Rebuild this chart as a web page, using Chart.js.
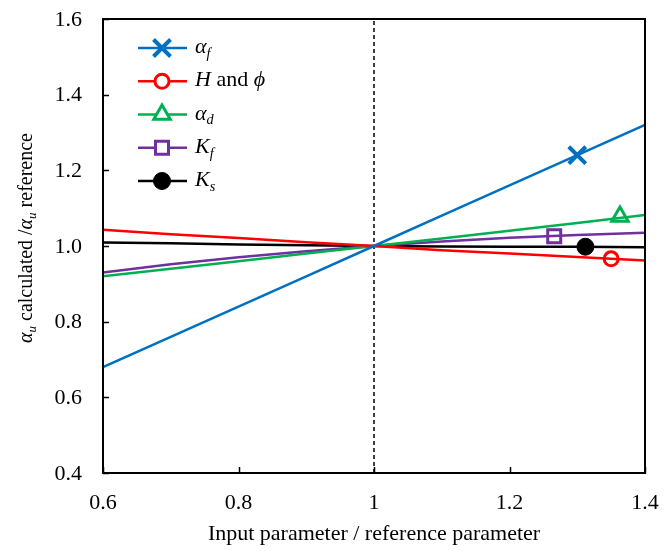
<!DOCTYPE html>
<html>
<head>
<meta charset="utf-8">
<script src="https://cdn.jsdelivr.net/npm/chart.js@4/dist/chart.umd.min.js"></script>
<style>
  html, body { margin: 0; padding: 0; background: #fff; }
  #wrap { width: 664px; height: 551px; position: relative; }
</style>
</head>
<body>
<div id="wrap"><canvas id="chart" width="664" height="551"></canvas></div>
<script>
// Data
const xValues = [0.6, 0.7, 0.8, 0.9, 1.0, 1.1, 1.2, 1.3, 1.4];
const alphaF  = [0.680, 0.760, 0.840, 0.920, 1.000, 1.080, 1.160, 1.240, 1.320];
const hPhi    = [1.043, 1.031, 1.021, 1.010, 1.000, 0.989, 0.980, 0.971, 0.962];
const alphaD  = [0.920, 0.940, 0.960, 0.980, 1.000, 1.020, 1.040, 1.061, 1.082];
const kF      = [0.930, 0.952, 0.970, 0.986, 1.000, 1.012, 1.022, 1.029, 1.035];
const kS      = [1.009, 1.007, 1.004, 1.002, 1.000, 0.999, 0.998, 0.998, 0.997];

// single marker per series
const markerX = [1.300, 1.350, 1.363, 1.266, 1.312];
const markerY = [1.240, 0.966, 1.078, 1.026, 0.998];

const refLineX = [1.0, 1.0];
const refLineY = [0.4, 1.6];

const xTicks = [0.6, 0.8, 1.0, 1.2, 1.4];
const xTickLabels = ['0.6', '0.8', '1', '1.2', '1.4'];
const yTicks = [0.4, 0.6, 0.8, 1.0, 1.2, 1.4, 1.6];
const yTickLabels = ['0.4', '0.6', '0.8', '1.0', '1.2', '1.4', '1.6'];

const FONT = '"Liberation Serif", "Times New Roman", serif';

const seriesInfo = [
  { data: alphaF, color: '#0070C0', style: 'crossRot', radius: 12, fill: '#0070C0', bw: 4,
    label: [{ t: 'α', i: true }, { t: 'f', i: true, sub: true }] },
  { data: hPhi, color: '#FF0000', style: 'circle', radius: 7, fill: '#ffffff', bw: 3,
    label: [{ t: 'H', i: true }, { t: ' and ' }, { t: 'ϕ', i: true }] },
  { data: alphaD, color: '#00B050', style: 'triangle', radius: 9.5, fill: '#ffffff', bw: 3,
    label: [{ t: 'α', i: true }, { t: 'd', i: true, sub: true }] },
  { data: kF, color: '#7030A0', style: 'rect', radius: 9.2, fill: '#ffffff', bw: 3,
    label: [{ t: 'K', i: true }, { t: 'f', i: true, sub: true }] },
  { data: kS, color: '#000000', style: 'circle', radius: 8.5, fill: '#000000', bw: 1,
    label: [{ t: 'K', i: true }, { t: 's', i: true, sub: true }] }
];

const datasets = [];
seriesInfo.forEach((s) => {
  datasets.push({
    data: xValues.map((x, i) => ({ x: x, y: s.data[i] })),
    showLine: true,
    borderColor: s.color,
    borderWidth: 2.5,
    pointRadius: 0,
    tension: 0
  });
});
seriesInfo.forEach((s, k) => {
  datasets.push({
    data: [{ x: markerX[k], y: markerY[k] }],
    showLine: false,
    pointStyle: s.style,
    pointRadius: s.radius,
    pointBorderWidth: s.bw,
    pointBorderColor: s.color,
    pointBackgroundColor: s.fill
  });
});
// dashed reference line at x = 1
datasets.push({
  data: refLineX.map((x, i) => ({ x: x, y: refLineY[i] })),
  showLine: true,
  borderColor: '#000000',
  borderWidth: 1.5,
  borderDash: [4, 3],
  pointRadius: 0
});

function richWidth(ctx, segs, size) {
  let w = 0;
  segs.forEach(sg => {
    const fs = sg.sub ? size * 0.65 : size;
    ctx.font = (sg.i ? 'italic ' : '') + fs + 'px ' + FONT;
    w += ctx.measureText(sg.t).width;
  });
  return w;
}

function drawRich(ctx, segs, x, y, size) {
  // y is baseline
  let cx = x;
  segs.forEach(sg => {
    const fs = sg.sub ? size * 0.65 : size;
    ctx.font = (sg.i ? 'italic ' : '') + fs + 'px ' + FONT;
    ctx.fillText(sg.t, cx, sg.sub ? y + size * 0.22 : y);
    cx += ctx.measureText(sg.t).width;
  });
}

function drawMarker(ctx, s, x, y) {
  const r = s.radius;
  ctx.save();
  ctx.lineWidth = s.bw;
  ctx.strokeStyle = s.color;
  ctx.fillStyle = s.fill;
  ctx.beginPath();
  if (s.style === 'crossRot') {
    const d = r * Math.SQRT1_2;
    ctx.moveTo(x - d, y - d); ctx.lineTo(x + d, y + d);
    ctx.moveTo(x - d, y + d); ctx.lineTo(x + d, y - d);
    ctx.stroke();
  } else if (s.style === 'circle') {
    ctx.arc(x, y, r, 0, Math.PI * 2);
    ctx.fill(); ctx.stroke();
  } else if (s.style === 'triangle') {
    ctx.moveTo(x, y - r);
    ctx.lineTo(x + r * 0.866, y + r / 2);
    ctx.lineTo(x - r * 0.866, y + r / 2);
    ctx.closePath();
    ctx.fill(); ctx.stroke();
  } else if (s.style === 'rect') {
    const h = r * Math.SQRT1_2;
    ctx.rect(x - h, y - h, 2 * h, 2 * h);
    ctx.fill(); ctx.stroke();
  }
  ctx.restore();
}

const decorPlugin = {
  id: 'decor',
  afterDraw(chart) {
    const ctx = chart.ctx;
    const a = chart.chartArea;
    const xs = chart.scales.x, ys = chart.scales.y;
    ctx.save();
    // frame
    ctx.strokeStyle = '#000';
    ctx.lineWidth = 2;
    ctx.strokeRect(a.left, a.top, a.right - a.left, a.bottom - a.top);
    // inside tick marks
    ctx.lineWidth = 1.5;
    ctx.beginPath();
    yTicks.forEach(v => {
      const p = Math.round(ys.getPixelForValue(v)) + 0.5;
      ctx.moveTo(a.left, p); ctx.lineTo(a.left + 6, p);
    });
    xTicks.forEach(v => {
      const p = Math.round(xs.getPixelForValue(v)) + 0.5;
      ctx.moveTo(p, a.bottom); ctx.lineTo(p, a.bottom - 6);
    });
    ctx.stroke();

    // tick labels
    ctx.fillStyle = '#000';
    ctx.font = '22px ' + FONT;
    ctx.textAlign = 'right';
    ctx.textBaseline = 'middle';
    yTicks.forEach((v, i) => {
      ctx.fillText(yTickLabels[i], a.left - 21, ys.getPixelForValue(v) + 1);
    });
    ctx.textAlign = 'center';
    ctx.textBaseline = 'alphabetic';
    xTicks.forEach((v, i) => {
      ctx.fillText(xTickLabels[i], xs.getPixelForValue(v), a.bottom + 36);
    });

    // legend
    ctx.textAlign = 'left';
    seriesInfo.forEach((s, i) => {
      const yy = 48 + i * 33.25;
      ctx.strokeStyle = s.color;
      ctx.lineWidth = 2.5;
      ctx.beginPath();
      ctx.moveTo(138, yy); ctx.lineTo(187, yy);
      ctx.stroke();
      drawMarker(ctx, s, 162, yy);
      ctx.fillStyle = '#000';
      drawRich(ctx, s.label, 195, yy + 5, 22);
    });

    // x axis title
    ctx.font = '22px ' + FONT;
    ctx.textAlign = 'center';
    ctx.fillText('Input parameter / reference parameter', (a.left + a.right) / 2, 540);

    // y axis title (rotated)
    const ySegs = [
      { t: 'α', i: true }, { t: 'u', i: true, sub: true },
      { t: ' calculated /' },
      { t: 'α', i: true }, { t: 'u', i: true, sub: true },
      { t: ' reference' }
    ];
    const ysz = 20;
    const yw = richWidth(ctx, ySegs, ysz);
    ctx.textAlign = 'left';
    ctx.translate(32, 238);
    ctx.rotate(-Math.PI / 2);
    drawRich(ctx, ySegs, -yw / 2, 0, ysz);
    ctx.restore();
  }
};

new Chart(document.getElementById('chart'), {
  type: 'scatter',
  data: { datasets: datasets },
  options: {
    responsive: false,
    animation: false,
    devicePixelRatio: 1,
    layout: { padding: { left: 0, right: 19, top: 19, bottom: 0 } },
    plugins: { legend: { display: false }, tooltip: { enabled: false } },
    scales: {
      x: {
        type: 'linear', min: 0.6, max: 1.4,
        afterFit: s => { s.height = 551 - 473; },
        grid: { display: false, drawTicks: false },
        border: { display: false },
        ticks: { display: false }
      },
      y: {
        type: 'linear', min: 0.4, max: 1.6,
        afterFit: s => { s.width = 103; },
        grid: { display: false, drawTicks: false },
        border: { display: false },
        ticks: { display: false }
      }
    }
  },
  plugins: [decorPlugin]
});
</script>
</body>
</html>
